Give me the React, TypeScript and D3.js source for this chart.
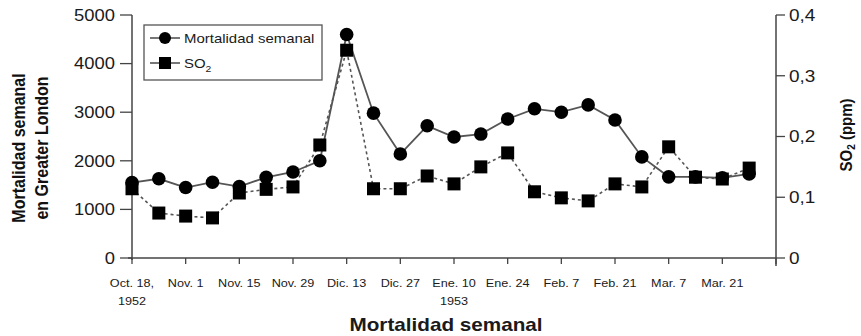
import React from "react";
import * as d3 from "d3";

const weeks = d3.range(24);
const mortality = [1550, 1630, 1450, 1560, 1470, 1660, 1770, 2000, 4600, 2980, 2140, 2720, 2490, 2550, 2860, 3070, 3000, 3150, 2840, 2080, 1670, 1670, 1650, 1730];
const so2 = [0.114, 0.074, 0.069, 0.066, 0.107, 0.113, 0.117, 0.186, 0.342, 0.114, 0.114, 0.135, 0.122, 0.15, 0.173, 0.109, 0.099, 0.094, 0.122, 0.117, 0.183, 0.133, 0.13, 0.148];
const xTickWeeks = [0, 2, 4, 6, 8, 10, 12, 14, 16, 18, 20, 22, 24];
const xTickLabels = ["Oct. 18,", "Nov. 1", "Nov. 15", "Nov. 29", "Dic. 13", "Dic. 27", "Ene. 10", "Ene. 24", "Feb. 7", "Feb. 21", "Mar. 7", "Mar. 21", ""];
const xTickYears = ["1952", "", "", "", "", "", "1953", "", "", "", "", "", ""];
const leftTicks = [0, 1000, 2000, 3000, 4000, 5000];
const rightTicks = [0, 0.1, 0.2, 0.3, 0.4];

const FONT = "'Liberation Sans', Arial, Helvetica, sans-serif";
const SX = 1.15;

function T(props: { x: number; y: number; anchor?: string; size: number; weight?: string; dy?: string; children: React.ReactNode }) {
  return (
    <text
      transform={`translate(${props.x},${props.y}) scale(${SX},1)`}
      textAnchor={props.anchor || "start"}
      fontSize={props.size}
      fontWeight={props.weight || "normal"}
      dy={props.dy}
      fill="#1a1a1a"
    >
      {props.children}
    </text>
  );
}

export default function App() {
  const W = 861, H = 336;
  const x = d3.scaleLinear().domain([0, 24]).range([132, 776]);
  const yL = d3.scaleLinear().domain([0, 5000]).range([258, 15]);
  const yR = d3.scaleLinear().domain([0, 0.4]).range([258, 15]);
  const axisColor = "#444";
  const lineM = d3.line<number>().x((_, i) => x(weeks[i])).y((d) => yL(d))(mortality) || "";
  const lineS = d3.line<number>().x((_, i) => x(weeks[i])).y((d) => yR(d))(so2) || "";
  const fmtR = (d: number) => (d === 0 ? "0" : d.toFixed(1).replace(".", ","));
  const sq = 13;
  return (
    <svg width={W} height={H} style={{ position: "absolute", left: 0, top: 0, background: "#fff" }} fontFamily={FONT}>
      {/* left axis */}
      <line x1={x(0)} x2={x(0)} y1={yL(5000)} y2={yL(0) + 2} stroke={axisColor} strokeWidth={1.5} />
      {leftTicks.map((t) => (
        <g key={"l" + t}>
          <line x1={x(0) - 12} x2={x(0)} y1={yL(t)} y2={yL(t)} stroke={axisColor} strokeWidth={1.3} />
          <T x={x(0) - 17} y={yL(t)} dy="0.36em" anchor="end" size={16}>{t}</T>
        </g>
      ))}
      {/* right axis */}
      <line x1={x(24)} x2={x(24)} y1={yR(0.4)} y2={yR(0) + 8} stroke={axisColor} strokeWidth={1.5} />
      {rightTicks.map((t) => (
        <g key={"r" + t}>
          <line x1={x(24)} x2={x(24) + 9} y1={yR(t)} y2={yR(t)} stroke={axisColor} strokeWidth={1.3} />
          <T x={x(24) + 13} y={yR(t)} dy="0.36em" size={16.5}>{fmtR(t)}</T>
        </g>
      ))}
      {/* x axis */}
      <line x1={x(0) - 4} x2={x(24)} y1={yL(0)} y2={yL(0)} stroke={axisColor} strokeWidth={1.5} />
      {xTickWeeks.map((w, i) => (
        <g key={"x" + w}>
          <line x1={x(w)} x2={x(w)} y1={yL(0)} y2={yL(0) + 6} stroke={axisColor} strokeWidth={1.3} />
          <T x={x(w)} y={283} dy="0.35em" anchor="middle" size={11}>{xTickLabels[i]}</T>
          <T x={x(w)} y={301} dy="0.35em" anchor="middle" size={11}>{xTickYears[i]}</T>
        </g>
      ))}
      {/* series */}
      <path d={lineS} fill="none" stroke="#555" strokeWidth={1.6} strokeDasharray="3,3" />
      <path d={lineM} fill="none" stroke="#555" strokeWidth={1.8} />
      {so2.map((v, i) => (
        <rect key={"s" + i} x={x(weeks[i]) - sq / 2} y={yR(v) - sq / 2} width={sq} height={sq} fill="#000" />
      ))}
      {mortality.map((v, i) => (
        <circle key={"m" + i} cx={x(weeks[i])} cy={yL(v)} r={6.8} fill="#000" />
      ))}
      {/* legend */}
      <rect x={144} y={25} width={178} height={55} fill="#fff" stroke="#555" strokeWidth={1.3} />
      <line x1={150} x2={180} y1={38} y2={38} stroke="#555" strokeWidth={1.6} />
      <circle cx={165} cy={38} r={6} fill="#000" />
      <T x={184} y={38} dy="0.35em" size={13}>Mortalidad semanal</T>
      <line x1={150} x2={180} y1={63} y2={63} stroke="#555" strokeWidth={1.6} />
      <rect x={159} y={57} width={12} height={12} fill="#000" />
      <T x={184} y={63} dy="0.35em" size={13}>SO<tspan fontSize={9} dy="4">2</tspan></T>
      {/* axis titles */}
      <text transform="translate(25,148) rotate(-90) scale(1,1.15)" textAnchor="middle" fontSize={16} fontWeight="bold" fill="#111">Mortalidad semanal</text>
      <text transform="translate(48,148) rotate(-90) scale(1,1.15)" textAnchor="middle" fontSize={16} fontWeight="bold" fill="#111">en Greater London</text>
      <text transform="translate(852,135) rotate(-90) scale(1,1.1)" textAnchor="middle" fontSize={15} fontWeight="bold" fill="#111">SO<tspan fontSize={10} dy="3">2</tspan><tspan dy="-3"> (ppm)</tspan></text>
      <T x={446} y={331} anchor="middle" size={18} weight="bold">Mortalidad semanal</T>
    </svg>
  );
}
